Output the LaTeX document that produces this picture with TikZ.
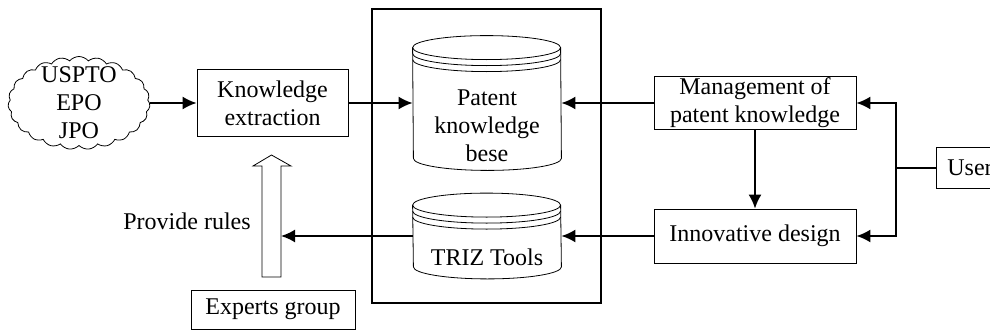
\documentclass[tikz,border=0pt]{standalone}
\usepackage{fontspec}
\setmainfont{Liberation Serif}
\usetikzlibrary{arrows.meta,shapes.symbols}
\newcommand{\dbcyl}[1]{%
    \draw[thin] ([yshift=-6pt]#1.north west) arc[start angle=180,end angle=0,x radius=37pt,y radius=6pt]
        -- ([yshift=6pt]#1.south east) arc[start angle=0,end angle=-180,x radius=37pt,y radius=6pt] -- cycle;
    \foreach \d in {6,9,12}
        \draw[thin] ([yshift=-\d pt]#1.north west) arc[start angle=180,end angle=360,x radius=37pt,y radius=6pt];
}

\begin{document}
\begin{tikzpicture}[x=0.5pt,y=0.5pt,
    every node/.style={font=\fontsize{12}{14}\selectfont},
    box/.style={draw,thin,align=center,inner sep=0pt},
    flow/.style={-{Latex[length=7pt,width=6.5pt]},line width=0.9pt},
    dbase/.style={minimum width=74pt,inner sep=0pt}]
    \useasboundingbox (0,0) rectangle (990,-332);
    \node[draw,line width=0.9pt,minimum width=114.5pt,minimum height=147pt] (repo) at (486.5,-156) {};
    \node[draw,thin,cloud,cloud puffs=23,cloud puff arc=100,aspect=1.6,minimum width=71pt,minimum height=46.5pt,inner sep=0pt] (src) at (79,-103) {};
    \node[align=center] (srctext) at (src) {USPTO\\EPO\\JPO};
    \node[box,minimum width=75.5pt,minimum height=33.5pt] (kex) at (272.5,-103) {Knowledge\\extraction};
    \node[dbase,minimum height=67pt] (pkb) at (487,-103) {};
    \node[dbase,minimum height=42.5pt] (triz) at (487,-236) {};
    \dbcyl{pkb}
    \dbcyl{triz}
    \node[align=center] (pkbtext) at (487,-126) {Patent\\knowledge\\bese};
    \node (triztext) at (487,-257) {TRIZ Tools};
    \node[box,minimum width=101pt,minimum height=26.5pt] (mgmt) at (755,-103) {Management of\\patent knowledge};
    \node[box,minimum width=101pt,minimum height=27pt] (innov) at (755,-236) {Innovative design};
    \node[box,minimum width=34pt,minimum height=20.5pt] (user) at (970,-168) {User};
    \node[box,minimum width=82pt,minimum height=19.5pt] (experts) at (273,-309.5) {Experts group};
    \draw[thin] (262,-277) -- (262,-166) -- (253,-166) -- (271.5,-155) -- (291,-166) -- (281,-166) -- (281,-277) -- cycle;
    \coordinate (rulesin) at (281,-236);
    \node (rulestext) at (187,-221) {Provide rules};
    \coordinate (fork) at (896,-168);
    \draw[flow] (src) edge (kex) (kex) edge (pkb) (mgmt) edge (pkb) (innov) edge (triz) (triz) edge (rulesin) (mgmt) edge (innov);
    \draw[line width=0.9pt] (user) -- (fork);
    \draw[flow] (fork) |- (mgmt);
    \draw[flow] (fork) |- (innov);
\end{tikzpicture}
\end{document}
